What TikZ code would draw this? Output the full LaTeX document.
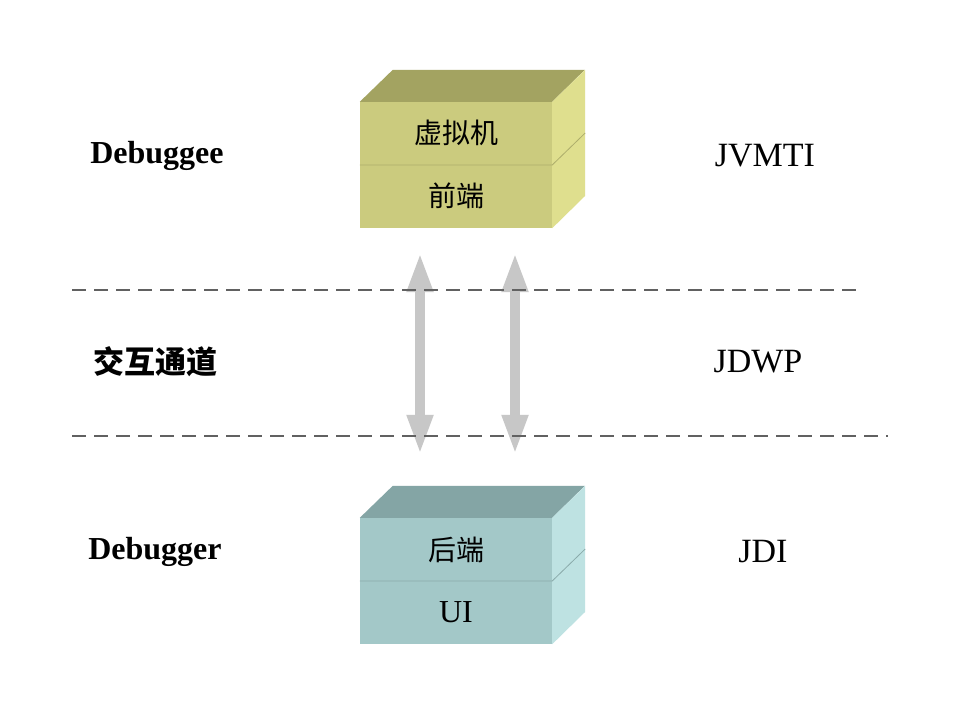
\documentclass[tikz,border=0pt]{standalone}
\usepackage{fontspec}
\setmainfont{Liberation Serif}
\newfontfamily\cjk{Noto Sans CJK SC}
\usetikzlibrary{arrows.meta}

\definecolor{vmfront}{HTML}{CBCB7E}
\definecolor{vmtop}{HTML}{A3A361}
\definecolor{vmside}{HTML}{DFDF8E}
\definecolor{uifront}{HTML}{A3C8C8}
\definecolor{uitop}{HTML}{84A5A5}
\definecolor{uiside}{HTML}{BEE2E2}

\tikzset{
  face/.style={rectangle,inner sep=0pt,minimum width=192pt,minimum height=126pt},
  lbl/.style={font=\fontsize{34}{40}\selectfont},
  blbl/.style={font=\bfseries\fontsize{32}{38}\selectfont},
  boxtxt/.style={font=\cjk\fontsize{28}{33}\selectfont},
  sep/.style={dash pattern=on 14pt off 8pt,line width=2.4pt,color=black!62},
  biga/.style={{Triangle[width=24pt,length=40pt]}-{Triangle[width=24pt,length=40pt]},line width=10pt,color=black!22}
}

\begin{document}
\begin{tikzpicture}[x=1pt,y=-1pt]
 \fill [white] (0,0) rectangle (968,712);
 \useasboundingbox (0,0) rectangle (968,712);

% upper box
 \node [face,fill=vmfront] (vm) at (456,165) {};
 \fill [vmtop] (vm.north west)--++(33,-32)--++(192,0)--(vm.north east)--cycle;
 \fill [vmside] (vm.north east)--++(33,-32)--++(0,126)--(vm.south east)--cycle;
 \draw [vmfront!85!black,line width=0.8pt] (vm.west)--(vm.east)--++(33,-32);
 \node [boxtxt] (vmtxt) at (456,133) {虚拟机};
 \node [boxtxt] (fetxt) at (456,196) {前端};

% lower box
 \node [face,fill=uifront] (ui) at (456,581) {};
 \fill [uitop] (ui.north west)--++(33,-32)--++(192,0)--(ui.north east)--cycle;
 \fill [uiside] (ui.north east)--++(33,-32)--++(0,126)--(ui.south east)--cycle;
 \draw [uifront!85!black,line width=0.8pt] (ui.west)--(ui.east)--++(33,-32);
 \node [boxtxt] (betxt) at (456,550) {后端};
 \node [lbl,font=\fontsize{32}{38}\selectfont] (uitxt) at (456,612) {UI};

% arrows
 \draw [biga] ([xshift=-36pt,yshift=-24pt]vm.south)--([xshift=-36pt,yshift=63pt]ui.north);
 \draw [biga] ([xshift=59pt,yshift=-24pt]vm.south)--([xshift=59pt,yshift=63pt]ui.north);

% separators
 \draw [sep] (72,290)--(858,290);
 \draw [sep] (72,436)--(888,436);

 \node [blbl] (dee) at (157,156) {Debuggee};
 \node [font=\cjk\bfseries\fontsize{31}{36}\selectfont] (chan) at (155,362) {交互通道};
 \node [blbl] (der) at (155,552) {Debugger};
 \node [lbl] (jvmti) at (765,156) {JVMTI};
 \node [lbl] (jdwp) at (758,362) {JDWP};
 \node [lbl] (jdi) at (763,552) {JDI};

\end{tikzpicture}
\end{document}
